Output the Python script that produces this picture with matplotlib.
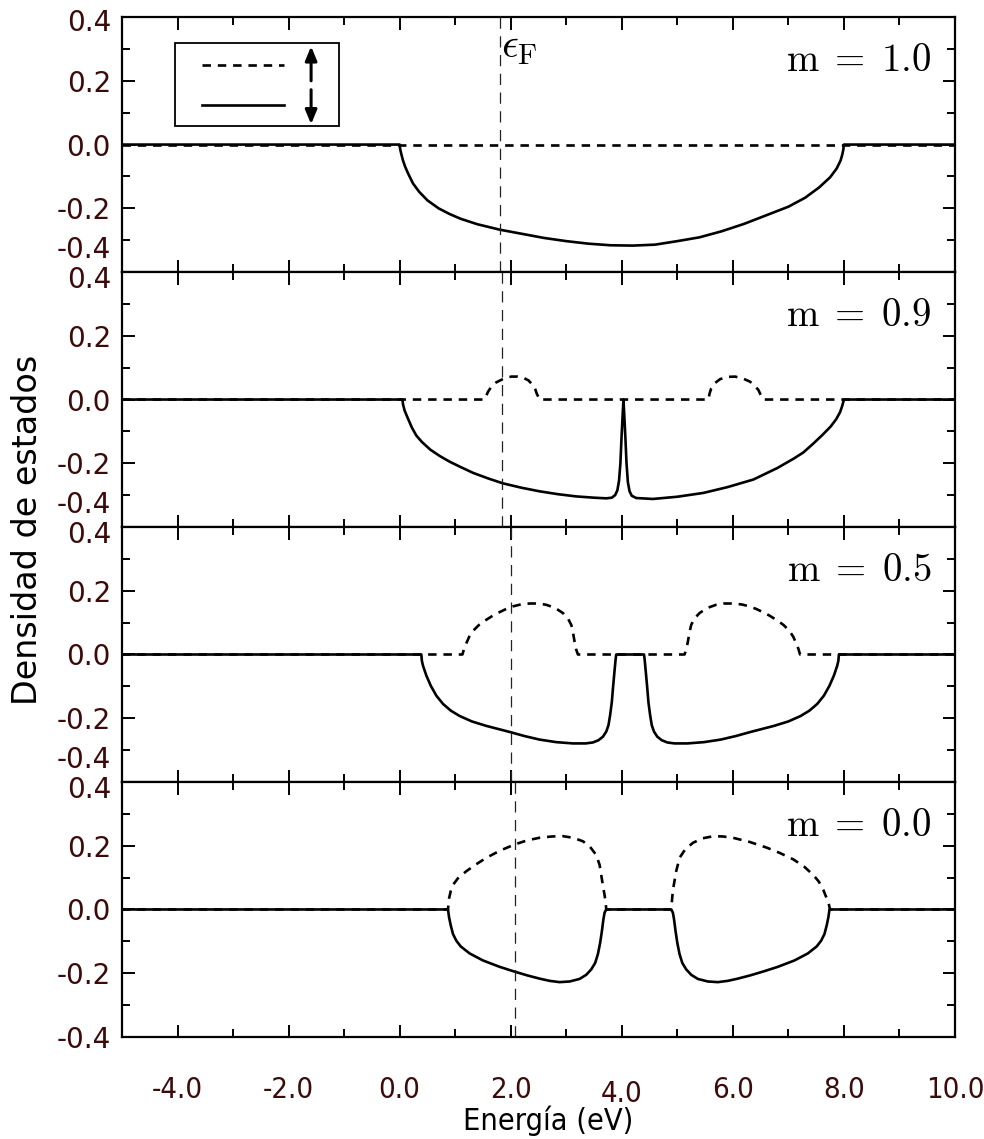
import matplotlib.pyplot as plt
from matplotlib.patches import Rectangle
from matplotlib.ticker import MultipleLocator, FormatStrFormatter
import matplotlib.transforms as mtransforms

plt.rcParams['mathtext.fontset'] = 'cm'
plt.rcParams['axes.unicode_minus'] = False

# magnetizacion de cada panel y nivel de Fermi
m_values = [1.0, 0.9, 0.5, 0.0]
e_fermi = [1.80, 1.85, 2.00, 2.07]

# m = 1.0
e_up_10 = [-5.0, 10.0]
dos_up_10 = [0.0, 0.0]
e_dn_10 = [-5.0, 0.0, 0.01, 0.03, 0.06, 0.1, 0.15, 0.24, 0.35, 0.5, 0.7, 0.9, 1.1,
           1.4, 1.8, 2.2, 2.6, 3.0, 3.4, 3.8, 4.2, 4.6, 5.0, 5.4, 5.8, 6.2, 6.6, 7.0,
           7.3, 7.55, 7.75, 7.87, 7.94, 7.97, 7.99, 8.0, 10.0]
dos_dn_10 = [0.0, 0.0, -0.015, -0.03, -0.05, -0.07, -0.09, -0.122, -0.148, -0.175,
             -0.2, -0.218, -0.233, -0.25, -0.267, -0.28, -0.293, -0.303, -0.311,
             -0.316, -0.317, -0.314, -0.303, -0.291, -0.272, -0.249, -0.222, -0.195,
             -0.167, -0.135, -0.103, -0.075, -0.05, -0.032, -0.015, 0.0, 0.0]

# m = 0.9
e_up_09 = [-5.0, 1.53, 1.56, 1.59, 1.65, 1.74, 1.88, 2.01, 2.12, 2.22, 2.32, 2.40,
           2.44, 2.47, 2.52, 5.56, 5.58, 5.61, 5.68, 5.77, 5.90, 6.04, 6.18, 6.31,
           6.40, 6.46, 6.50, 6.55, 10.0]
dos_up_09 = [0.0, 0.0, 0.012, 0.024, 0.04, 0.054, 0.066, 0.072, 0.072, 0.069, 0.06,
             0.045, 0.033, 0.018, 0.0, 0.0, 0.018, 0.035, 0.052, 0.064, 0.071, 0.072,
             0.066, 0.056, 0.042, 0.03, 0.015, 0.0, 0.0]
e_dn_09 = [-5.0, 0.05, 0.06, 0.09, 0.15, 0.22, 0.30, 0.40, 0.55, 0.72, 0.9, 1.1, 1.32,
           1.6, 1.86, 2.2, 2.52, 2.85, 3.18, 3.5, 3.72, 3.82, 3.88, 3.92, 3.95, 3.975,
           3.995, 4.015, 4.03, 4.045, 4.065, 4.085, 4.11, 4.14, 4.18, 4.26, 4.56, 5.0,
           5.47, 5.9, 6.37, 6.8, 7.1, 7.27, 7.45, 7.62, 7.76, 7.86, 7.93, 7.97, 8.0,
           10.0]
dos_dn_09 = [0.0, 0.0, -0.015, -0.035, -0.06, -0.088, -0.113, -0.133, -0.157, -0.177,
             -0.195, -0.212, -0.23, -0.248, -0.263, -0.277, -0.288, -0.297, -0.304,
             -0.308, -0.31, -0.308, -0.3, -0.285, -0.255, -0.2, -0.12, -0.05, 0.0,
             -0.05, -0.12, -0.2, -0.26, -0.288, -0.302, -0.309, -0.312, -0.305, -0.293,
             -0.275, -0.251, -0.215, -0.185, -0.166, -0.138, -0.11, -0.085, -0.062,
             -0.04, -0.02, 0.0, 0.0]

# m = 0.5
e_up_05 = [-5.0, 1.13, 1.16, 1.20, 1.25, 1.32, 1.43, 1.56, 1.68, 1.80, 1.92, 2.04,
           2.18, 2.34, 2.50, 2.64, 2.80, 2.94, 3.03, 3.09, 3.12, 3.15, 3.18, 3.21,
           5.13, 5.16, 5.19, 5.22, 5.25, 5.31, 5.40, 5.54, 5.70, 5.84, 6.00, 6.16,
           6.30, 6.42, 6.54, 6.66, 6.78, 6.91, 7.02, 7.09, 7.14, 7.18, 7.21, 10.0]
dos_up_05 = [0.0, 0.0, 0.018, 0.035, 0.055, 0.074, 0.093, 0.109, 0.122, 0.133, 0.143,
             0.151, 0.157, 0.16, 0.16, 0.156, 0.146, 0.13, 0.113, 0.093, 0.07, 0.04,
             0.015, 0.0, 0.0, 0.015, 0.04, 0.07, 0.093, 0.113, 0.13, 0.146, 0.156,
             0.16, 0.16, 0.157, 0.151, 0.143, 0.133, 0.122, 0.109, 0.093, 0.074,
             0.055, 0.035, 0.018, 0.0, 0.0]
e_dn_05 = [-5.0, 0.39, 0.40, 0.42, 0.48, 0.56, 0.66, 0.78, 0.92, 1.08, 1.3, 1.56,
           1.98, 2.25, 2.52, 2.82, 3.12, 3.35, 3.48, 3.58, 3.66, 3.72, 3.76, 3.79,
           3.82, 3.84, 3.87, 3.89, 3.90, 4.40, 4.41, 4.43, 4.46, 4.48, 4.51, 4.54,
           4.58, 4.64, 4.72, 4.82, 4.95, 5.18, 5.48, 5.78, 6.05, 6.32, 6.74, 7.0,
           7.22, 7.38, 7.52, 7.64, 7.74, 7.82, 7.88, 7.90, 7.91, 10.0]
dos_dn_05 = [0.0, 0.0, -0.02, -0.035, -0.066, -0.098, -0.129, -0.155, -0.176, -0.193,
             -0.21, -0.224, -0.243, -0.256, -0.267, -0.275, -0.279, -0.279, -0.276,
             -0.269, -0.258, -0.242, -0.222, -0.19, -0.15, -0.108, -0.05, -0.013, 0.0,
             0.0, -0.013, -0.05, -0.108, -0.15, -0.19, -0.222, -0.242, -0.258, -0.269,
             -0.276, -0.279, -0.279, -0.275, -0.267, -0.256, -0.243, -0.224, -0.21,
             -0.193, -0.176, -0.155, -0.129, -0.098, -0.066, -0.035, -0.02, 0.0, 0.0]

# m = 0.0
e_up_00 = [-5.0, 0.87, 0.89, 0.92, 0.96, 1.05, 1.20, 1.38, 1.56, 1.80, 2.07, 2.30,
           2.52, 2.74, 2.94, 3.12, 3.30, 3.43, 3.54, 3.60, 3.63, 3.66, 3.69, 3.71,
           3.72, 4.89, 4.905, 4.92, 4.95, 4.98, 5.04, 5.14, 5.28, 5.45, 5.65, 5.82,
           6.0, 6.3, 6.61, 6.85, 7.09, 7.28, 7.45, 7.55, 7.63, 7.69, 7.73, 7.75, 10.0]
dos_up_00 = [0.0, 0.0, 0.035, 0.058, 0.077, 0.098, 0.12, 0.142, 0.162, 0.184, 0.204,
             0.217, 0.225, 0.229, 0.23, 0.225, 0.214, 0.196, 0.171, 0.14, 0.108,
             0.075, 0.045, 0.02, 0.0, 0.0, 0.03, 0.06, 0.09, 0.12, 0.162, 0.188,
             0.209, 0.223, 0.23, 0.229, 0.225, 0.212, 0.194, 0.177, 0.157, 0.135,
             0.108, 0.087, 0.061, 0.035, 0.015, 0.0, 0.0]
e_dn_00 = [-5.0, 0.87, 0.89, 0.92, 0.96, 1.02, 1.1, 1.26, 1.5, 1.8, 2.05, 2.3, 2.52,
           2.7, 2.88, 3.06, 3.24, 3.36, 3.45, 3.52, 3.57, 3.61, 3.64, 3.67, 3.69,
           3.72, 4.89, 4.92, 4.94, 4.97, 5.0, 5.04, 5.09, 5.16, 5.25, 5.37, 5.55,
           5.73, 5.91, 6.09, 6.31, 6.56, 6.81, 7.11, 7.35, 7.51, 7.59, 7.65, 7.69,
           7.72, 7.74, 10.0]
dos_dn_00 = [0.0, 0.0, -0.025, -0.05, -0.077, -0.098, -0.116, -0.138, -0.16, -0.18,
             -0.194, -0.207, -0.217, -0.224, -0.228, -0.226, -0.218, -0.205, -0.188,
             -0.168, -0.14, -0.105, -0.07, -0.03, -0.01, 0.0, 0.0, -0.01, -0.03,
             -0.07, -0.105, -0.14, -0.168, -0.188, -0.205, -0.218, -0.226, -0.228,
             -0.224, -0.217, -0.207, -0.194, -0.18, -0.16, -0.138, -0.116, -0.098,
             -0.077, -0.05, -0.025, 0.0, 0.0]

panels = [(e_up_10, dos_up_10, e_dn_10, dos_dn_10),
          (e_up_09, dos_up_09, e_dn_09, dos_dn_09),
          (e_up_05, dos_up_05, e_dn_05, dos_dn_05),
          (e_up_00, dos_up_00, e_dn_00, dos_dn_00)]

x_ticks = [-4.0, -2.0, 0.0, 2.0, 4.0, 6.0, 8.0, 10.0]
y_ticks = [-0.4, -0.2, 0.0, 0.2, 0.4]

tick_color = '#3c0a0a'

fig, axes = plt.subplots(4, 1, figsize=(9.84, 11.39), dpi=100, sharex=True)
fig.subplots_adjust(left=0.124, right=0.9705, bottom=0.0896, top=0.985, hspace=0)


def shift(label, dy_px):
    label.set_transform(label.get_transform() +
                        mtransforms.ScaledTranslation(0, dy_px / 100, fig.dpi_scale_trans))


for i, ax in enumerate(axes):
    e_up, d_up, e_dn, d_dn = panels[i]
    ax.plot(e_dn, d_dn, color='black', lw=1.9, solid_joinstyle='round')
    ax.plot(e_up, d_up, color='black', lw=1.9, linestyle=(0, (3.2, 2.6)))
    ax.axvline(e_fermi[i], color='#222222', lw=0.9, linestyle=(0, (9, 6)))
    ax.set_xlim(-5, 10)
    ax.set_ylim(-0.4, 0.4)
    ax.set_yticks(y_ticks)
    ax.yaxis.set_major_formatter(FormatStrFormatter('%.1f'))
    ax.yaxis.set_minor_locator(MultipleLocator(0.1))
    ax.xaxis.set_minor_locator(MultipleLocator(1.0))
    ax.tick_params(which='both', direction='in', top=True, right=True, width=1.4)
    ax.tick_params(which='major', length=9)
    ax.tick_params(which='minor', length=5.5)
    ax.tick_params(axis='y', labelsize=20, labelcolor=tick_color, pad=8)
    for sp in ax.spines.values():
        sp.set_linewidth(1.6)
    ax.text(0.972, 0.83, r'$\mathrm{m}\;=\;%.1f$' % m_values[i],
            transform=ax.transAxes, ha='right', va='center', fontsize=28)
    ylbls = ax.get_yticklabels()
    shift(ylbls[-1], -3 if i == 0 else -5)
    if i < 3:
        ylbls[0].set_va('bottom')
        shift(ylbls[0], 8)

axes[0].text(e_fermi[0] + 0.02, 0.885, r'$\epsilon_{\mathrm{F}}$',
             transform=axes[0].get_xaxis_transform(), ha='left', va='center',
             fontsize=30)

# leyenda dibujada a mano
ax = axes[0]
ax.add_patch(Rectangle((0.0636, 0.573), 0.197, 0.325, transform=ax.transAxes,
                       fill=False, lw=1.3, ec='black'))
ax.plot([0.096, 0.194], [0.812, 0.812], transform=ax.transAxes, color='black',
        lw=1.9, linestyle=(0, (3.2, 2.6)))
ax.plot([0.096, 0.194], [0.655, 0.655], transform=ax.transAxes, color='black', lw=1.9)
ax.annotate('', xy=(0.227, 0.885), xytext=(0.227, 0.75), xycoords='axes fraction',
            arrowprops=dict(arrowstyle='-|>,head_length=0.6,head_width=0.25', lw=2.2,
                            color='black', mutation_scale=14, shrinkA=0, shrinkB=0))
ax.annotate('', xy=(0.227, 0.58), xytext=(0.227, 0.715), xycoords='axes fraction',
            arrowprops=dict(arrowstyle='-|>,head_length=0.6,head_width=0.25', lw=2.2,
                            color='black', mutation_scale=14, shrinkA=0, shrinkB=0))

bax = axes[-1]
bax.set_xticks(x_ticks)
bax.xaxis.set_major_formatter(FormatStrFormatter('%.1f'))
bax.tick_params(axis='x', labelsize=21, labelcolor=tick_color, pad=28)
for lbl in bax.get_xticklabels():
    lbl.set_fontstretch('condensed')
    if lbl.get_text() == '4.0':
        shift(lbl, -4)

fig.text(0.557, 0.016, u'Energía (eV)', ha='center', va='center', fontsize=22,
         fontstretch='condensed')
fig.text(0.028, 0.535, 'Densidad de estados', ha='center', va='center',
         rotation=90, fontsize=24)

fig.savefig('out.png', dpi=100)
